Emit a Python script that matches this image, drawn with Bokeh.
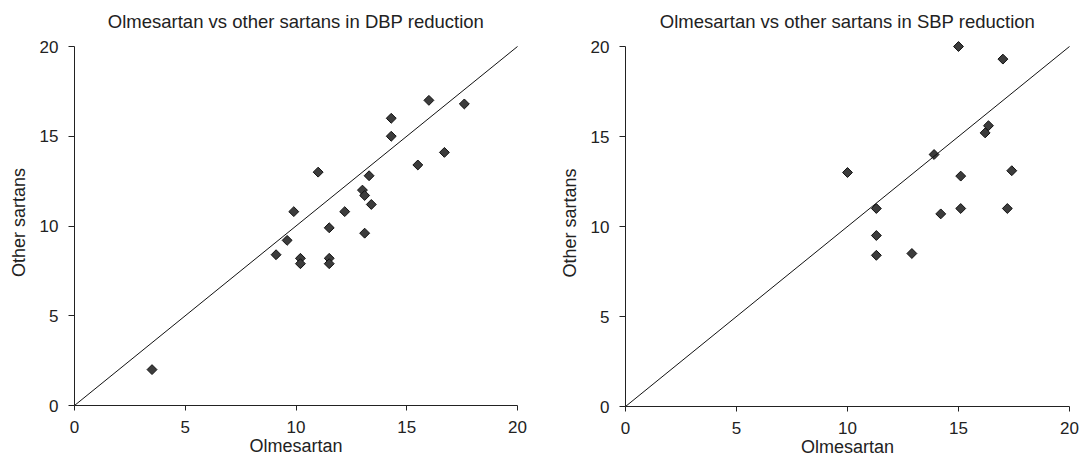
import math
from bokeh.plotting import figure
from bokeh.layouts import row
from bokeh.models import Range1d, Slope, FixedTicker
from bokeh.embed import file_html
from bokeh.resources import INLINE

# DBP reduction (mmHg): olmesartan vs other sartans
dbp_olmesartan = [3.5, 9.1, 9.6, 9.9, 10.2, 10.2, 11.0, 11.5, 11.5, 11.5, 12.2,
                  13.0, 13.1, 13.1, 13.3, 13.4, 14.3, 14.3, 15.5, 16.0, 16.7, 17.6]
dbp_other = [2.0, 8.4, 9.2, 10.8, 8.2, 7.9, 13.0, 9.9, 8.2, 7.9, 10.8,
             12.0, 11.7, 9.6, 12.8, 11.2, 16.0, 15.0, 13.4, 17.0, 14.1, 16.8]

# SBP reduction (mmHg): olmesartan vs other sartans
sbp_olmesartan = [10.0, 11.3, 11.3, 11.3, 12.9, 13.9, 14.2, 15.0, 15.1, 15.1,
                  16.2, 16.35, 17.0, 17.2, 17.4]
sbp_other = [13.0, 11.0, 9.5, 8.4, 8.5, 14.0, 10.7, 20.0, 12.8, 11.0,
             15.2, 15.6, 19.3, 11.0, 13.1]

ticks = [0, 5, 10, 15, 20]
titles = ["Olmesartan vs other sartans in DBP reduction",
          "Olmesartan vs other sartans in SBP reduction"]
x_label = "Olmesartan"
y_label = "Other sartans"

FONT = "Liberation Sans"
TXT = "#222222"


def make(title, xs, ys, left, right, top, bottom, fw, fh, unit_h):
    # frame extends a little above 20 so that markers at 20 are not clipped
    y_end = fh / unit_h
    p = figure(frame_width=fw, frame_height=fh, output_backend="svg",
               toolbar_location=None, x_range=Range1d(0, 20), y_range=Range1d(0, y_end),
               min_border_left=left, min_border_right=right,
               min_border_top=top, min_border_bottom=bottom,
               title=title)
    p.title.align = "center"
    p.title.text_font = FONT
    p.title.text_font_size = "18.5px"
    p.title.text_font_style = "normal"
    p.title.text_color = TXT
    p.title.standoff = 16
    p.outline_line_color = None
    p.grid.visible = False
    p.background_fill_color = "white"
    p.border_fill_color = "white"
    for ax in (p.xaxis[0], p.yaxis[0]):
        ax.ticker = FixedTicker(ticks=ticks)
        ax.bounds = (0, 20)
        ax.minor_tick_line_color = None
        ax.major_tick_in = 0
        ax.major_tick_out = 5
        ax.axis_line_color = "#222222"
        ax.major_tick_line_color = "#222222"
        ax.major_label_text_font = FONT
        ax.major_label_text_font_size = "17px"
        ax.major_label_text_color = TXT
        ax.axis_label_text_font = FONT
        ax.axis_label_text_font_size = "18px"
        ax.axis_label_text_font_style = "normal"
        ax.axis_label_text_color = TXT
    p.yaxis[0].major_tick_out = 6
    p.xaxis.axis_label = x_label
    p.yaxis.axis_label = y_label
    p.yaxis.major_label_orientation = "horizontal"
    p.xaxis.major_label_standoff = 10
    p.yaxis.major_label_standoff = 10
    p.xaxis.axis_label_standoff = 0
    p.yaxis.axis_label_standoff = 8
    p.add_layout(Slope(gradient=1, y_intercept=0, line_color="#111111", line_width=1))
    p.scatter(xs, ys, marker="square", size=7, angle=math.pi / 4,
              fill_color="#3c3c3c", line_color="#111111", line_width=1)
    return p


p1 = make(titles[0], dbp_olmesartan, dbp_other, 74, 34, 39, 54, 443, 366, 359 / 20)
p2 = make(titles[1], sbp_olmesartan, sbp_other, 74, 10, 37, 55, 444, 367, 360 / 20)

layout = row(p1, p2, spacing=0)
open("out.html", "w").write(file_html(layout, INLINE))
